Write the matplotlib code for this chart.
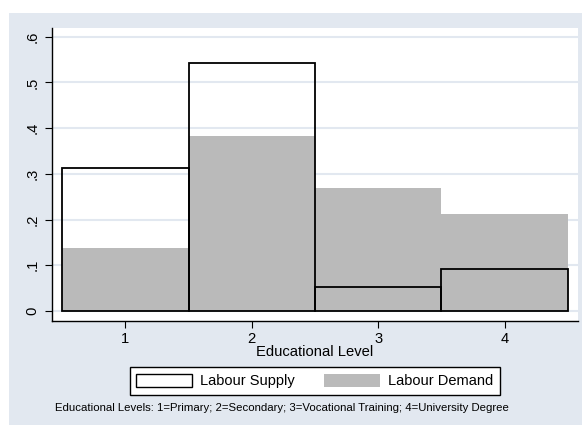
import matplotlib
matplotlib.use("Agg")
import matplotlib.pyplot as plt
from matplotlib.patches import Rectangle, Patch

plt.rcParams['font.family'] = ['Liberation Sans', 'DejaVu Sans']

levels = [1, 2, 3, 4]
labour_supply = [0.313, 0.543, 0.053, 0.091]
labour_demand = [0.138, 0.383, 0.270, 0.211]
yticks = [0, 0.1, 0.2, 0.3, 0.4, 0.5, 0.6]
ytick_labels = ["0", ".1", ".2", ".3", ".4", ".5", ".6"]
xlabel = "Educational Level"
note = "Educational Levels: 1=Primary; 2=Secondary; 3=Vocational Training; 4=University Degree"

BG = "#E2E8F0"
GRAY = "#BABABA"

fig = plt.figure(figsize=(5.82, 4.25), dpi=100)
fig.patches.append(Rectangle((9/582, 0), 1 - 9/582, 1 - 13/425,
                             transform=fig.transFigure, facecolor=BG,
                             edgecolor='none', zorder=-10))

ax = fig.add_axes([52/582, 1 - 321/425, (578 - 52)/582, (321 - 28)/425])
ax.set_facecolor('white')

ax.bar(levels, labour_demand, width=1.0, color=GRAY, edgecolor='none', zorder=2)
ax.bar(levels, labour_supply, width=1.0, facecolor='none', edgecolor='black',
       linewidth=1.3, zorder=3)

ax.set_xlim(0.42, 4.58)
ax.set_ylim(-0.022, 0.619)
ax.set_yticks(yticks)
ax.set_yticklabels(ytick_labels, rotation=90, va='center')
ax.set_xticks(levels)
ax.set_xticklabels([str(v) for v in levels])
for y in yticks:
    ax.axhline(y, color=BG, linewidth=1.5, zorder=1)

for s in ['top', 'right']:
    ax.spines[s].set_visible(False)
for s in ['left', 'bottom']:
    ax.spines[s].set_linewidth(1.0)
    ax.spines[s].set_color('black')
ax.tick_params(axis='both', length=5, width=0.8, labelsize=10.6, color='black')
ax.tick_params(axis='y', pad=4)
ax.tick_params(axis='x', pad=3)

ax.set_xlabel(xlabel, fontsize=10.6, labelpad=-1)

handles = [Patch(facecolor='white', edgecolor='black', linewidth=1.0, label='Labour Supply'),
           Patch(facecolor=GRAY, edgecolor='none', label='Labour Demand')]
leg = fig.legend(handles=handles, loc='center', bbox_to_anchor=(315/582, 1 - 381/425),
                 ncol=2, fontsize=10.5, frameon=True, fancybox=False,
                 handlelength=3.8, handleheight=1.0, handletextpad=0.6,
                 columnspacing=2.0, borderpad=0.45, borderaxespad=0)
leg.get_frame().set_edgecolor('black')
leg.get_frame().set_linewidth(1.0)
leg.get_frame().set_facecolor('white')
leg.get_frame().set_alpha(1)

fig.text(55/582, 1 - 408/425, note, fontsize=8.2, ha='left', va='center')

fig.savefig("out.png", dpi=100)
